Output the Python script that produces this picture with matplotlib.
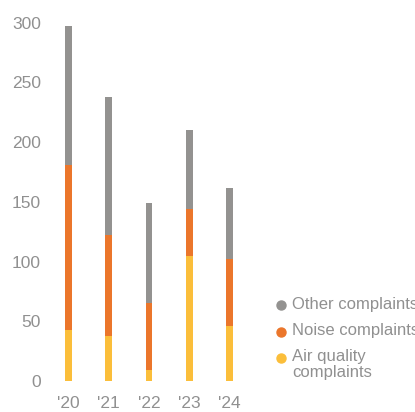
import matplotlib
matplotlib.use("Agg")
import matplotlib.pyplot as plt
from matplotlib.lines import Line2D
import numpy as np

years = ["'20", "'21", "'22", "'23", "'24"]
air_quality = [43, 38, 9, 105, 46]
noise = [138, 84, 56, 39, 56]
other = [116, 116, 84, 66, 60]

series_labels = ["Other complaints", "Noise complaints", "Air quality\ncomplaints"]
yticks = [0, 50, 100, 150, 200, 250, 300]

c_air = "#FBBE3A"
c_noise = "#EB762B"
c_other = "#939290"
c_text = "#909090"

plt.rcParams["font.family"] = ["Liberation Sans", "DejaVu Sans"]

W, H = 415, 412
fig = plt.figure(figsize=(W / 100, H / 100), dpi=100)
ax = fig.add_axes([48 / W, (H - 381) / H, 202 / W, 358.3 / H])

x = np.arange(len(years))
bw = 0.17
b1 = np.array(air_quality)
b2 = b1 + np.array(noise)
ax.bar(x, air_quality, bw, color=c_air, clip_on=False)
ax.bar(x, noise, bw, bottom=b1, color=c_noise, clip_on=False)
ax.bar(x, other, bw, bottom=b2, color=c_other, clip_on=False)

ax.set_xlim(-0.5, 4.5)
ax.set_ylim(0, 300)
ax.set_xticks(x)
ax.set_xticklabels(years)
ax.set_yticks(yticks)
ax.tick_params(axis="both", length=0, colors=c_text, labelsize=12.5)
ax.tick_params(axis="x", pad=11)
ax.tick_params(axis="y", pad=5)
for s in ax.spines.values():
    s.set_visible(False)

# Legend on the right, markers aligned with first text line
rows = [(305, c_other), (331.5, c_noise), (358, c_air)]
for (ypix, col), lab in zip(rows, series_labels):
    yf = (H - ypix) / H
    fig.add_artist(Line2D([281 / W], [yf], marker="o", markersize=6.5,
                          color=col, linestyle="none", transform=fig.transFigure))
    fig.text(292 / W, yf + 8.5 / H, lab, color=c_text, fontsize=12, va="top",
             ha="left", linespacing=1.0)

fig.savefig("out.png", dpi=100)
